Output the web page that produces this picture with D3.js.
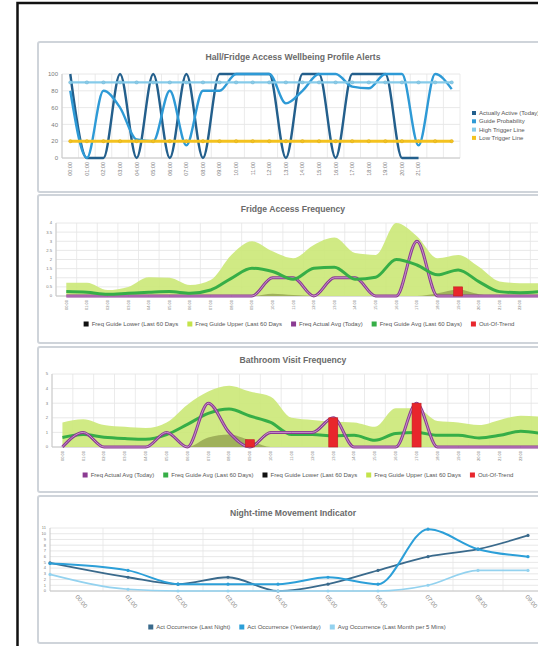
<!DOCTYPE html>
<html>
<head>
<meta charset="utf-8">
<script src="https://cdnjs.cloudflare.com/ajax/libs/d3/7.8.5/d3.min.js"></script>
<style>
  body { margin: 0; background: #fff; }
  svg { display: block; font-family: "Liberation Sans", Arial, sans-serif; }
</style>
</head>
<body>
<div id="app"></div>
<script>
// ---- data ----
const hours = ["00:00", "01:00", "02:00", "03:00", "04:00", "05:00", "06:00", "07:00",
  "08:00", "09:00", "10:00", "11:00", "12:00", "13:00", "14:00", "15:00",
  "16:00", "17:00", "18:00", "19:00", "20:00", "21:00", "22:00", "23:00"]

// panel 1 - wellbeing profile alerts
const alertTickLabels = ["00:00", "01:00", "02:00", "03:00", "04:00", "05:00", "06:00", "07:00",
  "08:00", "09:00", "10:00", "11:00", "12:00", "13:00", "14:00", "15:00",
  "16:00", "17:00", "18:00", "19:00", "20:00", "21:00", "", ""]
const actuallyActive = [100, 0, 0, 100, 0, 100, 0, 100, 0, 100, 100, 100, 100, 0, 100, 100, 0, 100, 100, 100, 0, 0]
const guideProbability = [80, 0, 80, 60, 22, 20, 80, 15, 80, 80, 100, 100, 100, 65, 80, 100, 100, 85, 83, 100, 100, 15, 100, 82]
const highTrigger = [90, 90, 90, 90, 90, 90, 90, 90, 90, 90, 90, 90, 90, 90, 90, 90, 90, 90, 90, 90, 90, 90, 90, 90]
const lowTrigger = [20, 20, 20, 20, 20, 20, 20, 20, 20, 20, 20, 20, 20, 20, 20, 20, 20, 20, 20, 20, 20, 20, 20, 20]
const alertTicks = [0, 20, 40, 60, 80, 100]

// panel 2 - fridge access frequency
const fridgeUpper = [0.73, 0.73, 0.33, 0.5, 1.03, 1.0, 0.6, 0.88, 2.25, 3.0, 2.45, 2.07, 2.8, 3.2, 2.35, 2.25, 4.0, 3.27, 2.07, 2.25, 1.6, 0.8, 0.7, 0.7]
const fridgeLower = [0, 0, 0, 0, 0, 0, 0, 0, 0, 0, 0.12, 0.05, 0, 0, 0, 0, 0, 0, 0.15, 0.35, 0.1, 0, 0, 0]
const fridgeActual = [0, 0, 0, 0, 0, 0, 0, 0, 0, 0, 1, 1, 0, 1, 1, 0, 0, 3, 0, 0, 0, 0, 0, 0]
const fridgeGuideAvg = [0.24, 0.2, 0.1, 0.15, 0.2, 0.24, 0.15, 0.33, 0.97, 1.52, 1.34, 0.92, 1.52, 1.58, 0.92, 1.03, 2.0, 1.7, 1.16, 1.43, 0.79, 0.24, 0.18, 0.24]
const fridgeOutOfTrend = [0, 0, 0, 0, 0, 0, 0, 0, 0, 0, 0, 0, 0, 0, 0, 0, 0, 0, 0, 0.5, 0, 0, 0, 0]
const fridgeTicks = [0, 0.5, 1, 1.5, 2, 2.5, 3, 3.5, 4]

// panel 3 - bathroom visit frequency
const bathActual = [0, 1, 0, 0, 0, 1, 0, 3, 1, 0, 1, 1, 1, 2, 0, 0, 0, 3, 0, 0, 0, 0, 0, 0]
const bathGuideAvg = [0.65, 0.85, 0.67, 0.58, 0.53, 0.85, 1.55, 2.3, 2.6, 2.12, 1.68, 0.85, 0.85, 0.76, 0.8, 0.46, 0.92, 1.0, 0.8, 0.8, 0.62, 0.8, 1.08, 0.92]
const bathLower = [0, 0, 0, 0, 0, 0, 0, 0.65, 0.85, 0.45, 0, 0, 0, 0, 0, 0, 0, 0, 0, 0, 0, 0, 0, 0]
const bathUpper = [1.68, 1.9, 1.5, 1.38, 1.3, 1.68, 2.9, 3.8, 4.2, 3.8, 3.45, 2.0, 1.85, 1.73, 1.68, 1.38, 2.65, 2.65, 1.78, 1.68, 1.5, 1.85, 2.14, 2.07]
const bathOutOfTrend = [0, 0, 0, 0, 0, 0, 0, 0, 0, 0.5, 0, 0, 0, 2, 0, 0, 0, 3, 0, 0, 0, 0, 0, 0]
const bathTicks = [0, 1, 2, 3, 4, 5]

// panel 4 - night-time movement (first sample sits at the start of the axis, before 00:00)
const nightHours = ["00:00", "01:00", "02:00", "03:00", "04:00", "05:00", "06:00", "07:00", "08:00", "09:00"]
const nightSampleTimes = [-0.56, 1, 2, 3, 4, 5, 6, 7, 8, 9]
const lastNight = [4.9, 2.4, 1.2, 2.4, 0, 1.2, 3.6, 6.0, 7.3, 9.7]
const yesterday = [4.8, 3.6, 1.2, 1.2, 1.2, 2.4, 1.2, 10.8, 7.3, 6.0]
const avgMonth = [2.9, 0.3, 0, 0, 0, 0, 0, 1.0, 3.6, 3.6]
const nightTicks = [0, 1, 2, 3, 4, 5, 6, 7, 8, 9, 10, 11]

// ---- svg ----
const W = 538, H = 646
const svg = d3.select("#app").append("svg").attr("width", W).attr("height", H)

// outer black frame (cut off on the right and bottom)
svg.append("path").attr("d", "M17.5,646 V3 H540").attr("fill", "none").attr("stroke", "#111").attr("stroke-width", 2.5)

function panel(y0, y1, title, titleY) {
  svg.append("rect").attr("x", 38).attr("y", y0).attr("width", 540).attr("height", y1 - y0)
    .attr("fill", "#fff").attr("stroke", "#cfd4da").attr("stroke-width", 2).attr("rx", 2)
  svg.append("text").attr("x", 293).attr("y", titleY).attr("text-anchor", "middle")
    .attr("font-size", 8.6).attr("font-weight", "bold").attr("fill", "#6a6a6a").text(title)
}

function hGrid(g, x0, x1, y, ticks) {
  g.selectAll(null).data(ticks).enter().append("line")
    .attr("x1", x0).attr("x2", x1)
    .attr("y1", d => y(d)).attr("y2", d => y(d))
    .attr("stroke", "#e2e2e2").attr("stroke-width", 0.8)
}

function vGrid(g, xs, y) {
  g.selectAll(null).data(xs).enter().append("line")
    .attr("x1", d => d).attr("x2", d => d)
    .attr("y1", y.range()[0]).attr("y2", y.range()[1])
    .attr("stroke", "#e6e6e6").attr("stroke-width", 0.8)
}

function axes(g, x0, x1, y) {
  g.append("line").attr("x1", x0).attr("x2", x1)
    .attr("y1", y.range()[0]).attr("y2", y.range()[0]).attr("stroke", "#c8c8c8")
  g.append("line").attr("x1", x0).attr("x2", x0)
    .attr("y1", y.range()[0]).attr("y2", y.range()[1]).attr("stroke", "#c8c8c8")
}

function grid(g, x, y, ticks, n) {
  hGrid(g, x.range()[0], x.range()[1], y, ticks)
  vGrid(g, d3.range(n + 1).map(i => x.range()[0] + i * x.step()), y)
  axes(g, x.range()[0], x.range()[1], y)
}

function yLabels(g, x0, y, ticks, size) {
  g.selectAll(null).data(ticks).enter().append("text")
    .attr("x", x0 - 4).attr("y", d => y(d)).attr("dy", "0.35em")
    .attr("text-anchor", "end").attr("font-size", size).attr("fill", "#7a7a7a")
    .text(d => d)
}

function xLabelsVertical(g, x, y, labels, size) {
  const c = i => x(i) + x.bandwidth() / 2
  // labels past the right edge of the window are not drawn (they are off-screen in the original)
  g.selectAll(null).data(labels.map((d, i) => ({ d, i })).filter(o => c(o.i) < W - 4)).enter().append("text")
    .attr("transform", o => "translate(" + c(o.i) + "," + (y.range()[0] + 4) + ") rotate(-90)")
    .attr("dy", "0.35em").attr("text-anchor", "end")
    .attr("font-size", size).attr("fill", "#7a7a7a").text(o => o.d)
}

function lineOf(x, y) {
  return d3.line().x((d, i) => x(i) + x.bandwidth() / 2).y(d => y(d)).curve(d3.curveMonotoneX)
}
function areaOf(x, y) {
  return d3.area().x((d, i) => x(i) + x.bandwidth() / 2).y0(y(0)).y1(d => y(d)).curve(d3.curveMonotoneX)
}

function legendRow(items, cx, y) {
  const g = svg.append("g")
  let pos = 0
  items.forEach(it => {
    const item = g.append("g").attr("transform", "translate(" + pos + ",0)")
    item.append("rect").attr("x", 0).attr("y", y - 2.5).attr("width", 5).attr("height", 5).attr("fill", it.color)
    const t = item.append("text").attr("x", 8).attr("y", y).attr("dy", "0.35em")
      .attr("font-size", 6).attr("fill", "#555").text(it.name)
    pos += 8 + t.node().getComputedTextLength() + 9
  })
  g.attr("transform", "translate(" + (cx - (pos - 9) / 2) + ",0)")
}

function bars(g, x, y, vals) {
  g.selectAll(null).data(vals.map((v, i) => ({ v, i })).filter(d => d.v > 0)).enter().append("rect")
    .attr("x", d => x(d.i) + x.bandwidth() / 2 - 4.5).attr("width", 9)
    .attr("y", d => y(d.v)).attr("height", d => y(0) - y(d.v))
    .attr("fill", "#e8262c").attr("stroke", "#c01d22").attr("stroke-width", 0.6)
}

function purpleLine(g, line, vals) {
  g.append("path").attr("d", line(vals)).attr("fill", "none").attr("stroke", "#8b3b92").attr("stroke-width", 3)
  g.append("path").attr("d", line(vals)).attr("fill", "none").attr("stroke", "#d9a9dc").attr("stroke-width", 0.8)
}

// ---- panel 1 ----
panel(42, 192, "Hall/Fridge Access Wellbeing Profile Alerts", 60)
{
  const g = svg.append("g")
  const x = d3.scaleBand().domain(d3.range(24)).range([62, 460])
  const y = d3.scaleLinear().domain([0, 100]).range([158, 74])
  grid(g, x, y, alertTicks, 24)
  yLabels(g, 62, y, alertTicks, 6)
  xLabelsVertical(g, x, y, alertTickLabels, 5.5)
  const line = lineOf(x, y)
  const series = [
    { name: "Actually Active (Today)", vals: actuallyActive, color: "#235f8c", w: 2.4 },
    { name: "Guide Probability", vals: guideProbability, color: "#2e9ad6", w: 2.4 },
    { name: "High Trigger Line", vals: highTrigger, color: "#86cbea", w: 2.4, dots: true },
    { name: "Low Trigger Line", vals: lowTrigger, color: "#f4c21f", w: 3, dots: true }
  ]
  series.forEach(s => {
    g.append("path").attr("d", line(s.vals)).attr("fill", "none").attr("stroke", s.color).attr("stroke-width", s.w)
    if (s.dots) {
      g.selectAll(null).data(s.vals).enter().append("circle")
        .attr("cx", (d, i) => x(i) + x.bandwidth() / 2).attr("cy", d => y(d)).attr("r", 1.7)
        .attr("fill", s.color).attr("stroke", d3.color(s.color).darker(0.4)).attr("stroke-width", 0.4)
    }
  })
  // legend on the right
  series.forEach((s, i) => {
    g.append("rect").attr("x", 472).attr("y", 111 + i * 8.3).attr("width", 4).attr("height", 4).attr("fill", s.color)
    g.append("text").attr("x", 479).attr("y", 113 + i * 8.3).attr("dy", "0.35em")
      .attr("font-size", 6).attr("fill", "#555").text(s.name)
  })
}

// ---- panel 2 ----
panel(195, 343, "Fridge Access Frequency", 212)
{
  const g = svg.append("g")
  const x = d3.scaleBand().domain(d3.range(24)).range([56, 551])
  const y = d3.scaleLinear().domain([0, 4]).range([296, 223])
  grid(g, x, y, fridgeTicks, 24)
  yLabels(g, 56, y, fridgeTicks, 4.2)
  xLabelsVertical(g, x, y, hours, 4)
  const area = areaOf(x, y), line = lineOf(x, y)
  g.append("path").attr("d", area(fridgeUpper)).attr("fill", "#cbe877").attr("opacity", 0.9)
  g.append("path").attr("d", area(fridgeLower)).attr("fill", "#8f9d4c").attr("opacity", 0.75)
  purpleLine(g, line, fridgeActual)
  g.append("path").attr("d", line(fridgeGuideAvg)).attr("fill", "none").attr("stroke", "#36ae47").attr("stroke-width", 3)
  bars(g, x, y, fridgeOutOfTrend)
  legendRow([
    { name: "Freq Guide Lower (Last 60 Days", color: "#111" },
    { name: "Freq Guide Upper (Last 60 Days", color: "#c3e34a" },
    { name: "Freq Actual Avg (Today)", color: "#8b3b92" },
    { name: "Freq Guide Avg (Last 60 Days)", color: "#36ae47" },
    { name: "Out-Of-Trend", color: "#e8262c" }
  ], 299, 324)
}

// ---- panel 3 ----
panel(347, 492, "Bathroom Visit Frequency", 363)
{
  const g = svg.append("g")
  const x = d3.scaleBand().domain(d3.range(24)).range([52, 552])
  const y = d3.scaleLinear().domain([0, 5]).range([447, 374])
  grid(g, x, y, bathTicks, 24)
  yLabels(g, 52, y, bathTicks, 4.2)
  xLabelsVertical(g, x, y, hours, 4)
  const area = areaOf(x, y), line = lineOf(x, y)
  g.append("path").attr("d", area(bathUpper)).attr("fill", "#cbe877").attr("opacity", 0.9)
  g.append("path").attr("d", area(bathLower)).attr("fill", "#8f9d4c").attr("opacity", 0.75)
  g.append("path").attr("d", line(bathGuideAvg)).attr("fill", "none").attr("stroke", "#36ae47").attr("stroke-width", 3)
  purpleLine(g, line, bathActual)
  bars(g, x, y, bathOutOfTrend)
  legendRow([
    { name: "Freq Actual Avg (Today)", color: "#8b3b92" },
    { name: "Freq Guide Avg (Last 60 Days)", color: "#36ae47" },
    { name: "Freq Guide Lower (Last 60 Days", color: "#111" },
    { name: "Freq Guide Upper (Last 60 Days", color: "#c3e34a" },
    { name: "Out-Of-Trend", color: "#e8262c" }
  ], 298, 475)
}

// ---- panel 4 ----
panel(496, 643, "Night-time Movement Indicator", 516)
{
  const g = svg.append("g")
  // time axis in hours; the first sample falls at the very start of the axis
  const x = d3.scaleLinear().domain([-0.56, 9.5]).range([50, 553])
  const y = d3.scaleLinear().domain([0, 11]).range([591, 528])
  hGrid(g, x.range()[0], x.range()[1], y, nightTicks)
  vGrid(g, d3.range(10).map(h => x(h + 0.5)), y)
  axes(g, x.range()[0], x.range()[1], y)
  yLabels(g, x.range()[0], y, nightTicks, 4)
  g.selectAll(null).data(nightHours).enter().append("text")
    .attr("transform", (d, i) => "translate(" + (x(i) - 3) + ",597) rotate(50)")
    .attr("font-size", 6).attr("fill", "#7a7a7a").text(d => d)
  const line = d3.line().x((d, i) => x(nightSampleTimes[i])).y(d => y(d)).curve(d3.curveMonotoneX)
  const series = [
    { name: "Act Occurrence  (Last Night)", vals: lastNight, color: "#3a6a8c", w: 1.8 },
    { name: "Act Occurrence  (Yesterday)", vals: yesterday, color: "#2c9fd8", w: 2 },
    { name: "Avg Occurrence (Last Month per 5 Mins)", vals: avgMonth, color: "#93d2ef", w: 1.6 }
  ]
  series.forEach(s => {
    g.append("path").attr("d", line(s.vals)).attr("fill", "none").attr("stroke", s.color).attr("stroke-width", s.w)
    g.selectAll(null).data(s.vals).enter().append("circle")
      .attr("cx", (d, i) => x(nightSampleTimes[i])).attr("cy", d => y(d)).attr("r", 1.6)
      .attr("fill", s.color)
  })
  legendRow(series.map(s => ({ name: s.name, color: s.color })), 297, 627)
}
</script>
</body>
</html>
